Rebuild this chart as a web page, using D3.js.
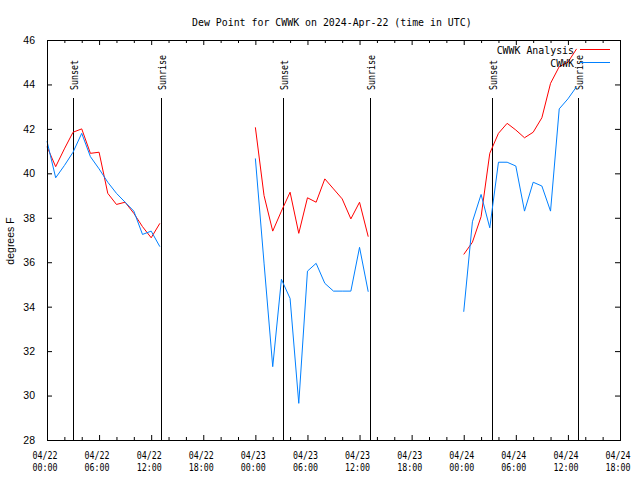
<!DOCTYPE html>
<html>
<head>
<meta charset="utf-8">
<script src="https://cdn.jsdelivr.net/npm/d3@7"></script>
<style>
  html, body { margin: 0; padding: 0; background: #fff; }
  svg { display: block; }
</style>
</head>
<body>
<svg id="chart" width="640" height="480"></svg>
<script>
// ---------------- data ----------------
const titleText = "Dew Point for CWWK on 2024-Apr-22 (time in UTC)";
const yLabel = "degrees F";
const seriesNames = ["CWWK Analysis", "CWWK"];
const seriesColors = ["#ff0000", "#0080ff"];

// hours since 04/22 00:00 UTC
const hours = [
  0, 1, 2, 3, 4, 5, 6, 7, 8, 9, 10, 11, 12, 13,
  24, 25, 26, 27, 28, 29, 30, 31, 32, 33, 34, 35, 36, 37,
  48, 49, 50, 51, 52, 53, 54, 55, 56, 57, 58, 59, 60, 61
];
const analysis = [
  41.2, 40.3, 41.1, 41.85, 42.0, 40.9, 40.95, 39.1, 38.6, 38.7, 38.2, 37.6, 37.1, 37.75,
  42.07, 39.0, 37.4, 38.3, 39.15, 37.3, 38.9, 38.7, 39.75, 39.3, 38.85, 37.95, 38.7, 37.15,
  36.35, 36.9, 38.05, 40.9, 41.8, 42.25, 41.95, 41.6, 41.85, 42.5, 44.05, 44.8, 45.0, 45.6
];
const observed = [
  41.45, 39.8, 40.35, 40.95, 41.8, 40.75, 40.2, 39.6, 39.1, 38.7, 38.3, 37.25, 37.4, 36.7,
  40.67, 35.96, 31.3, 35.23, 34.37, 29.65, 35.6, 35.95, 35.05, 34.7, 34.7, 34.7, 36.67, 34.67,
  33.77, 37.82, 39.05, 37.55, 40.5, 40.5, 40.33, 38.3, 39.6, 39.43, 38.3, 42.9, 43.35, 43.9
];

const sunsetHours = [3.05, 27.2, 51.25];
const sunriseHours = [13.15, 37.2, 61.2];

const xTickHours = [0, 6, 12, 18, 24, 30, 36, 42, 48, 54, 60, 66];
const xTickDates = ["04/22", "04/22", "04/22", "04/22", "04/23", "04/23", "04/23", "04/23", "04/24", "04/24", "04/24", "04/24"];
const xTickTimes = ["00:00", "06:00", "12:00", "18:00", "00:00", "06:00", "12:00", "18:00", "00:00", "06:00", "12:00", "18:00"];
const xMinorHours = [2, 4, 8, 10, 14, 16, 20, 22, 26, 28, 32, 34, 38, 40, 44, 46, 50, 52, 56, 58, 62, 64];
const yTicks = [28, 30, 32, 34, 36, 38, 40, 42, 44, 46];

// ---------------- layout ----------------
const L = 47, R = 620, T = 40, B = 440;
const svg = d3.select("#chart");
const x = d3.scaleLinear().domain([0, 66]).range([L, R]);
const y = d3.scaleLinear().domain([28, 46]).range([B, T]);

const mono = "'DejaVu Sans Mono', 'Liberation Mono', monospace";
const sans = "'Liberation Sans', Arial, sans-serif";

// title
svg.append("text")
  .attr("x", 192).attr("y", 26)
  .attr("font-family", mono).attr("font-size", 11)
  .attr("textLength", titleText.length * 5.95)
  .attr("lengthAdjust", "spacingAndGlyphs")
  .attr("fill", "#000")
  .text(titleText);

// y axis label
svg.append("text")
  .attr("transform", "translate(14,241) rotate(-90)")
  .attr("text-anchor", "middle")
  .attr("font-family", sans).attr("font-size", 10.5)
  .attr("fill", "#000")
  .text(yLabel);

// axes via d3 axis generators (ticks inward)
const yLeft = d3.axisLeft(y).tickValues(yTicks).tickSizeInner(-5).tickSizeOuter(0).tickPadding(12);
const gyl = svg.append("g").attr("transform", `translate(${L},0)`).call(yLeft);
gyl.select(".domain").remove();
gyl.selectAll("text").attr("font-family", sans).attr("font-size", 10.5).attr("fill", "#000");
gyl.selectAll("line").attr("stroke", "#000");

const yRight = d3.axisRight(y).tickValues(yTicks.slice(1, -1)).tickSizeInner(-5).tickSizeOuter(0).tickFormat("");
const gyr = svg.append("g").attr("transform", `translate(${R},0)`).call(yRight);
gyr.select(".domain").remove();
gyr.selectAll("line").attr("stroke", "#000");

function xTicks(gen, ty, vals, size) {
  const g = svg.append("g").attr("transform", `translate(0,${ty})`)
    .call(gen.tickValues(vals).tickSizeInner(size).tickSizeOuter(0).tickFormat(""));
  g.select(".domain").remove();
  g.selectAll("line").attr("stroke", "#000");
  return g;
}
xTicks(d3.axisBottom(x), B, xTickHours.slice(1, -1), -5);
xTicks(d3.axisBottom(x), B, xMinorHours, -3);
xTicks(d3.axisTop(x), T, xTickHours.slice(1, -1), -5);
xTicks(d3.axisTop(x), T, xMinorHours, -3);

// x tick labels (two lines)
const xl = svg.append("g");
xTickHours.forEach((h, i) => {
  xl.append("text")
    .attr("x", x(h) - 2).attr("y", 459)
    .attr("text-anchor", "middle")
    .attr("font-family", mono).attr("font-size", 10.5)
    .attr("textLength", 25).attr("lengthAdjust", "spacingAndGlyphs")
    .text(xTickDates[i]);
  xl.append("text")
    .attr("x", x(h) - 2).attr("y", 471)
    .attr("text-anchor", "middle")
    .attr("font-family", mono).attr("font-size", 10.5)
    .attr("textLength", 25).attr("lengthAdjust", "spacingAndGlyphs")
    .text(xTickTimes[i]);
});

// sunset / sunrise lines
function sunMarks(list, label) {
  list.forEach(h => {
    const px = Math.round(x(h)) + 0.5;
    svg.append("line")
      .attr("x1", px).attr("x2", px).attr("y1", 98).attr("y2", B)
      .attr("stroke", "#000").attr("stroke-width", 1);
    svg.append("text")
      .attr("transform", `translate(${px + 4},90) rotate(-90)`)
      .attr("font-family", mono).attr("font-size", 10.5)
      .attr("textLength", label.length * 5).attr("lengthAdjust", "spacingAndGlyphs")
      .attr("fill", "#000")
      .text(label);
  });
}
sunMarks(sunsetHours, "Sunset");
sunMarks(sunriseHours, "Sunrise");

// data lines, broken at gaps
function segments(vals) {
  const segs = [];
  let cur = [];
  hours.forEach((h, i) => {
    if (cur.length && h - hours[i - 1] > 1) { segs.push(cur); cur = []; }
    cur.push([h, vals[i]]);
  });
  if (cur.length) segs.push(cur);
  return segs;
}
const line = d3.line().x(d => x(d[0])).y(d => y(d[1]));
[analysis, observed].forEach((vals, k) => {
  svg.append("g").selectAll("path")
    .data(segments(vals))
    .join("path")
    .attr("d", line)
    .attr("fill", "none")
    .attr("stroke", seriesColors[k])
    .attr("stroke-width", 1);
});

// legend
const legY = [49.5, 62.5];
seriesNames.forEach((name, i) => {
  svg.append("text")
    .attr("x", 574).attr("y", legY[i] + 4.5)
    .attr("text-anchor", "end")
    .attr("font-family", mono).attr("font-size", 11)
    .attr("textLength", name.length * 5.95).attr("lengthAdjust", "spacingAndGlyphs")
    .attr("fill", "#000")
    .text(name);
  svg.append("line")
    .attr("x1", 580).attr("x2", 610).attr("y1", legY[i]).attr("y2", legY[i])
    .attr("stroke", seriesColors[i]).attr("stroke-width", 1);
});

// frame
svg.append("rect")
  .attr("x", L + 0.5).attr("y", T + 0.5)
  .attr("width", R - L).attr("height", B - T)
  .attr("fill", "none").attr("stroke", "#000").attr("stroke-width", 1);
</script>
</body>
</html>
